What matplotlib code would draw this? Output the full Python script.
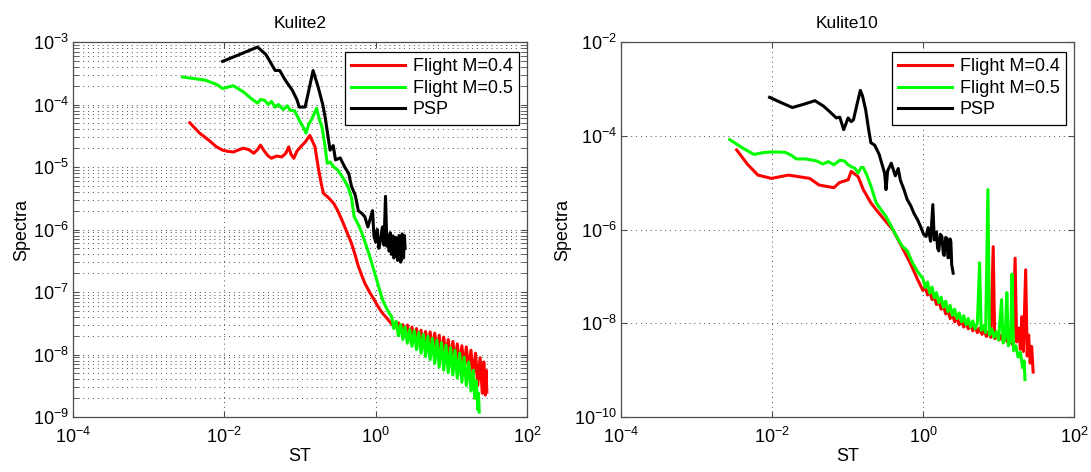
import numpy as np
import matplotlib
matplotlib.use("Agg")
import matplotlib.pyplot as plt
from matplotlib.ticker import LogLocator, NullLocator, NullFormatter

plt.rcParams['font.family'] = ['Liberation Sans', 'DejaVu Sans']
plt.rcParams['mathtext.fontset'] = 'custom'
plt.rcParams['mathtext.rm'] = 'Liberation Sans'
plt.rcParams['mathtext.it'] = 'Liberation Sans'
plt.rcParams['mathtext.bf'] = 'Liberation Sans'

labels = ["Flight M=0.4", "Flight M=0.5", "PSP"]
colors = ["#ff0000", "#00ff00", "#000000"]

# ---- Kulite2 ----
k2_psp_st = [9.5e-3, 0.0158, 0.0275, 0.0355, 0.047, 0.054, 0.064, 0.079, 0.091, 0.098,
             0.117, 0.135, 0.149, 0.174, 0.20, 0.215, 0.25, 0.275, 0.295, 0.34,
             0.39, 0.44, 0.48, 0.54, 0.59, 0.66, 0.72, 0.79, 0.91, 0.95,
             1.0, 1.05, 1.1, 1.15, 1.23, 1.29, 1.35, 1.41, 1.46, 1.51, 1.56,
             1.62, 1.66, 1.70, 1.74, 1.78, 1.82, 1.91, 1.95, 2.0, 2.04, 2.09,
             2.14, 2.19, 2.24, 2.29, 2.34, 2.4, 2.45]
k2_psp = [4.9e-4, 6.3e-4, 8.3e-4, 6.3e-4, 3.5e-4, 3.5e-4, 2.45e-4, 1.7e-4, 1.2e-4, 9.1e-5,
          9.1e-5, 2.0e-4, 3.5e-4, 1.9e-4, 1.0e-4, 6.3e-5, 1.86e-5, 2.2e-5, 1.3e-5, 1.4e-5,
          1.0e-5, 7.9e-6, 4.9e-6, 3.5e-6, 2.0e-6, 1.8e-6, 1.6e-6, 1.1e-6, 2.0e-6, 7.9e-7,
          6.3e-7, 1.0e-6, 5.0e-7, 6.3e-7, 1.1e-6, 5.6e-7, 3.4e-6, 5.4e-7, 8.0e-7, 4.5e-7,
          8.9e-7, 4.0e-7, 7.1e-7, 7.9e-7, 3.5e-7, 3.7e-7, 7.5e-7, 7.1e-7, 3.2e-7, 3.5e-7,
          8.0e-7, 7.1e-7, 3.0e-7, 3.3e-7, 8.5e-7, 7.9e-7, 3.5e-7, 8.0e-7, 5.0e-7]

k2_m05_st = [2.8e-3, 4.0e-3, 5.6e-3, 7.9e-3, 9.5e-3, 0.0112, 0.0132, 0.0158, 0.0178, 0.0224,
             0.0275, 0.030, 0.034, 0.038, 0.042, 0.047, 0.052, 0.060, 0.068, 0.074,
             0.085, 0.098, 0.112, 0.12, 0.132, 0.141, 0.166, 0.182, 0.195, 0.214,
             0.229, 0.25, 0.28, 0.316, 0.36, 0.43, 0.48, 0.52, 0.59, 0.66,
             0.81, 1.0, 1.12, 1.23, 1.38, 1.51,
             1.62, 1.74, 1.86, 2.0, 2.14, 2.29, 2.45, 2.63, 2.82, 3.02,
             3.24, 3.47, 3.72, 3.98, 4.27, 4.57, 4.9, 5.25, 5.62, 6.03,
             6.46, 6.92, 7.41, 7.94, 8.51, 9.12, 9.77, 10.5, 11.2, 12.0,
             12.9, 13.8, 14.8, 15.8, 17.0, 18.2, 19.5, 20.4, 21.4, 22.4,
             22.9, 23.4]
k2_m05 = [2.75e-4, 2.6e-4, 2.45e-4, 2.1e-4, 1.8e-4, 1.9e-4, 2.0e-4, 1.74e-4, 1.6e-4, 1.26e-4,
          1.05e-4, 1.2e-4, 1.17e-4, 1.0e-4, 1.12e-4, 9.1e-5, 1.0e-4, 8.3e-5, 9.5e-5, 8.1e-5,
          7.9e-5, 5.6e-5, 4.2e-5, 3.5e-5, 5.0e-5, 5.6e-5, 8.7e-5, 5.6e-5, 4.4e-5, 2.2e-5,
          1.15e-5, 1.2e-5, 1.0e-5, 8.9e-6, 7.1e-6, 4.9e-6, 3.2e-6, 1.6e-6, 1.2e-6, 8.7e-7,
          4.2e-7, 1.8e-7, 1.12e-7, 7.6e-8, 5.6e-8, 4.6e-8,
          4.1e-8, 2.6e-8, 3.4e-8, 2.0e-8, 3.0e-8, 1.74e-8, 2.75e-8, 1.51e-8, 2.5e-8, 1.35e-8,
          2.4e-8, 1.2e-8, 2.24e-8, 1.05e-8, 2.1e-8, 9.3e-9, 1.95e-8, 8.3e-9, 1.82e-8, 7.2e-9,
          1.7e-8, 6.3e-9, 1.55e-8, 5.6e-9, 1.41e-8, 5.1e-9, 1.29e-8, 4.7e-9, 1.17e-8, 4.2e-9,
          1.05e-8, 3.6e-9, 9.1e-9, 3.2e-9, 7.6e-9, 2.6e-9, 5.6e-9, 2.0e-9, 3.8e-9, 1.32e-9,
          2.4e-9, 1.2e-9]

k2_m04_st = [3.5e-3, 4.7e-3, 6.2e-3, 7.9e-3, 9.5e-3, 0.0112, 0.0132, 0.0158, 0.0178, 0.021,
             0.0245, 0.0275, 0.030, 0.034, 0.038, 0.042, 0.049, 0.0575, 0.065, 0.071,
             0.076, 0.083, 0.091, 0.102, 0.117, 0.135, 0.148, 0.158, 0.174, 0.19,
             0.204, 0.24, 0.28, 0.316, 0.36, 0.42, 0.48, 0.54, 0.59, 0.66,
             0.72, 0.83, 0.95, 1.10, 1.23, 1.41, 1.66,
             2.0, 2.14, 2.29, 2.45, 2.63, 2.82, 3.02, 3.24, 3.47, 3.72,
             3.98, 4.27, 4.57, 4.9, 5.25, 5.62, 6.03, 6.46, 6.92, 7.41,
             7.94, 8.51, 9.12, 9.77, 10.5, 11.2, 12.0, 12.9, 13.8, 14.8,
             15.8, 17.0, 18.2, 19.5, 20.9, 22.4, 24.0, 25.7, 26.9, 28.2,
             28.8, 29.5]
k2_m04 = [5.1e-5, 3.5e-5, 2.7e-5, 2.1e-5, 1.86e-5, 1.78e-5, 1.74e-5, 1.9e-5, 2.0e-5, 1.9e-5,
          1.66e-5, 1.9e-5, 2.24e-5, 1.78e-5, 1.5e-5, 1.38e-5, 1.5e-5, 1.45e-5, 1.66e-5, 2.1e-5,
          1.6e-5, 1.38e-5, 1.78e-5, 2.1e-5, 2.5e-5, 3.2e-5, 2.5e-5, 2.1e-5, 1.0e-5, 5.6e-6,
          3.8e-6, 3.2e-6, 2.6e-6, 2.0e-6, 1.4e-6, 8.9e-7, 6.0e-7, 3.8e-7, 2.6e-7, 1.8e-7,
          1.38e-7, 1.0e-7, 7.6e-8, 5.6e-8, 4.6e-8, 3.8e-8, 3.0e-8,
          3.2e-8, 2.24e-8, 3.0e-8, 2.0e-8, 2.95e-8, 1.82e-8, 2.75e-8, 1.66e-8, 2.6e-8, 1.51e-8,
          2.45e-8, 1.38e-8, 2.34e-8, 1.29e-8, 2.3e-8, 1.2e-8, 2.2e-8, 1.1e-8, 2.04e-8, 9.8e-9,
          1.9e-8, 8.9e-9, 1.74e-8, 7.9e-9, 1.62e-8, 7.2e-9, 1.48e-8, 6.5e-9, 1.38e-8, 6.0e-9,
          1.32e-8, 5.5e-9, 1.17e-8, 4.5e-9, 1.05e-8, 3.2e-9, 8.9e-9, 2.4e-9, 7.6e-9, 2.24e-9,
          5.6e-9, 2.5e-9]

# ---- Kulite10 ----
k10_psp_st = [9.3e-3, 0.0132, 0.0186, 0.0263, 0.037, 0.048, 0.059, 0.071, 0.079, 0.089,
              0.102, 0.112, 0.12, 0.135, 0.148, 0.158, 0.174, 0.19, 0.204, 0.229,
              0.263, 0.28, 0.31, 0.324, 0.34, 0.38, 0.43, 0.47, 0.50, 0.56,
              0.62, 0.69, 0.76, 0.85, 0.93, 1.02, 1.10, 1.17, 1.26, 1.35,
              1.41, 1.51, 1.56, 1.62, 1.70, 1.78, 1.86, 1.91, 2.0, 2.09,
              2.14, 2.19, 2.29, 2.34, 2.4, 2.51]
k10_psp = [6.6e-4, 5.1e-4, 4.0e-4, 4.7e-4, 5.6e-4, 4.3e-4, 3.2e-4, 2.4e-4, 2.5e-4, 1.35e-4,
           2.4e-4, 2.0e-4, 2.2e-4, 5.0e-4, 9.3e-4, 7.1e-4, 3.6e-4, 1.4e-4, 7.1e-5, 6.3e-5,
           4.0e-5, 2.8e-5, 1.6e-5, 7.1e-6, 1.78e-5, 2.6e-5, 1.4e-5, 2.0e-5, 1.15e-5, 7.1e-6,
           4.3e-6, 3.2e-6, 2.2e-6, 1.6e-6, 1.15e-6, 7.9e-7, 7.1e-7, 1.1e-6, 5.6e-7, 3.4e-6,
           6.0e-7, 8.9e-7, 4.0e-7, 3.5e-7, 7.9e-7, 7.1e-7, 3.0e-7, 2.8e-7, 6.8e-7, 6.3e-7,
           2.5e-7, 2.5e-7, 6.3e-7, 5.5e-7, 1.78e-7, 1.17e-7]

k10_m05_st = [2.75e-3, 4.0e-3, 5.75e-3, 7.9e-3, 9.8e-3, 0.0126, 0.0151, 0.0182, 0.021, 0.028,
              0.039, 0.047, 0.056, 0.066, 0.079, 0.091, 0.102, 0.112, 0.126, 0.138,
              0.151, 0.162, 0.182, 0.204, 0.24, 0.28, 0.324, 0.38, 0.447, 0.525,
              0.62, 0.72, 0.85,
              1.0, 1.07, 1.15, 1.23, 1.32, 1.41, 1.51, 1.62, 1.74, 1.86,
              2.0, 2.14, 2.29, 2.45, 2.63, 2.82, 3.02, 3.24, 3.47, 3.72,
              3.98, 4.27, 4.57, 4.9, 5.25, 5.62, 5.89, 6.31, 6.76, 7.24,
              7.59, 8.13, 8.71, 9.33, 10.0, 11.0, 11.5, 12.3, 12.9, 13.5,
              14.5, 15.1, 15.8, 17.0, 18.2, 19.5, 20.9, 21.9, 22.4]
k10_m05 = [8.3e-5, 5.6e-5, 4.0e-5, 4.4e-5, 4.5e-5, 4.5e-5, 4.4e-5, 3.8e-5, 3.2e-5, 3.2e-5,
           2.9e-5, 2.5e-5, 2.8e-5, 2.4e-5, 3.0e-5, 2.9e-5, 2.4e-5, 2.2e-5, 2.0e-5, 1.6e-5,
           2.1e-5, 2.1e-5, 1.4e-5, 8.5e-6, 3.7e-6, 2.6e-6, 1.9e-6, 1.17e-6, 7.1e-7, 4.5e-7,
           3.5e-7, 2.0e-7, 1.26e-7,
           8.9e-8, 5.8e-8, 7.6e-8, 4.4e-8, 5.9e-8, 3.5e-8, 4.5e-8, 2.75e-8, 3.6e-8, 2.2e-8,
           2.95e-8, 1.78e-8, 2.4e-8, 1.48e-8, 2.0e-8, 1.26e-8, 1.66e-8, 1.07e-8, 1.45e-8, 9.3e-9,
           1.26e-8, 8.3e-9, 1.12e-8, 7.6e-9, 1.0e-8, 1.95e-7, 7.1e-9, 8.9e-9, 6.3e-9, 7.1e-6,
           5.6e-9, 7.6e-9, 5.0e-9, 6.6e-9, 4.4e-9, 3.2e-8, 3.8e-9, 5.0e-9, 4.5e-8, 3.3e-9,
           4.2e-9, 1.12e-7, 2.6e-9, 3.3e-9, 1.9e-9, 2.4e-9, 1.12e-9, 1.58e-9, 6.3e-10]

k10_m04_st = [3.4e-3, 4.7e-3, 6.5e-3, 9.8e-3, 0.0166, 0.0316, 0.042, 0.066, 0.078, 0.102,
              0.112, 0.138, 0.162, 0.204, 0.263, 0.40, 0.55, 0.68, 0.85,
              1.0, 1.07, 1.15, 1.23, 1.32, 1.41, 1.51, 1.62, 1.74, 1.86,
              2.0, 2.14, 2.29, 2.45, 2.63, 2.82, 3.02, 3.24, 3.47, 3.72,
              3.98, 4.27, 4.57, 4.9, 5.25, 5.62, 6.03, 6.46, 6.92, 7.41,
              7.94, 8.51, 8.91, 9.55, 10.2, 11.0, 11.7, 12.6, 13.5, 14.5,
              15.5, 16.6, 17.4, 18.6, 19.5, 20.4, 21.4, 22.9, 24.0, 25.1,
              26.3, 27.5, 28.8]
k10_m04 = [5.0e-5, 2.5e-5, 1.45e-5, 1.23e-5, 1.45e-5, 1.23e-5, 8.9e-6, 7.8e-6, 1.0e-5, 1.15e-5,
           1.74e-5, 1.35e-5, 7.1e-6, 3.7e-6, 2.2e-6, 9.8e-7, 3.7e-7, 1.9e-7, 8.5e-8,
           5.0e-8, 6.0e-8, 4.0e-8, 4.8e-8, 3.2e-8, 3.8e-8, 2.5e-8, 3.0e-8, 2.0e-8, 2.4e-8,
           1.58e-8, 1.9e-8, 1.26e-8, 1.58e-8, 1.07e-8, 1.35e-8, 9.3e-9, 1.17e-8, 8.3e-9, 1.05e-8,
           7.6e-9, 9.5e-9, 6.9e-9, 8.7e-9, 6.3e-9, 7.9e-9, 5.8e-9, 7.2e-9, 5.2e-9, 6.6e-9,
           5.0e-9, 4.3e-7, 4.7e-9, 6.0e-9, 4.4e-9, 5.6e-9, 4.0e-9, 5.2e-9, 3.7e-9, 5.0e-9,
           3.5e-9, 2.45e-7, 4.0e-9, 7.9e-9, 2.8e-9, 1.38e-8, 2.5e-9, 1.38e-7, 2.0e-9, 5.6e-9,
           1.41e-9, 3.2e-9, 9.1e-10]


def style_axes(ax, title, ymin, ymax, yticks, minor_grid):
    ax.set_xscale('log')
    ax.set_yscale('log')
    ax.set_xlim(1e-4, 1e2)
    ax.set_ylim(ymin, ymax)
    ax.set_xticks([1e-4, 1e-2, 1e0, 1e2])
    ax.set_yticks(yticks)
    ax.xaxis.set_minor_locator(NullLocator())
    dots = (0, (1, 4))
    if minor_grid:
        ax.yaxis.set_minor_locator(LogLocator(base=10, subs=(2, 3, 4, 5, 6, 7, 8, 9), numticks=100))
        ax.yaxis.set_minor_formatter(NullFormatter())
        ax.grid(True, which='minor', axis='y', linestyle=dots, color='0.3', linewidth=0.7)
    else:
        ax.yaxis.set_minor_locator(NullLocator())
    ax.grid(True, which='major', linestyle=dots, color='0.3', linewidth=0.7)
    ax.tick_params(which='both', direction='in', top=True, right=True, labelsize=13,
                   length=4, color='0.3')
    ax.tick_params(axis='x', pad=7)
    ax.tick_params(axis='y', pad=3)
    for s in ax.spines.values():
        s.set_color('0.3')
        s.set_linewidth(0.9)
    ax.set_title(title, fontsize=12.5, pad=10)
    ax.set_xlabel('ST', fontsize=13, labelpad=1)
    ax.set_ylabel('Spectra', fontsize=13, labelpad=2)
    leg = ax.legend(loc='upper right', bbox_to_anchor=(0.982, 0.973), borderaxespad=0,
                    fontsize=13, handlelength=3.0, labelspacing=0.25, handletextpad=0.4,
                    fancybox=False, framealpha=1, edgecolor='black', borderpad=0.35)
    leg.get_frame().set_linewidth(0.9)


fig = plt.figure(figsize=(10.91, 4.72), dpi=100)
ax1 = fig.add_axes([0.0669, 0.1165, 0.4161, 0.7945])
ax2 = fig.add_axes([0.5692, 0.1165, 0.4152, 0.7945])

ax1.plot(k2_m04_st, k2_m04, color=colors[0], linewidth=2.2, label=labels[0])
ax1.plot(k2_m05_st, k2_m05, color=colors[1], linewidth=2.2, label=labels[1])
ax1.plot(k2_psp_st, k2_psp, color=colors[2], linewidth=2.2, label=labels[2])
style_axes(ax1, 'Kulite2', 1e-9, 1e-3, [1e-9, 1e-8, 1e-7, 1e-6, 1e-5, 1e-4, 1e-3], True)

ax2.plot(k10_m04_st, k10_m04, color=colors[0], linewidth=2.2, label=labels[0])
ax2.plot(k10_m05_st, k10_m05, color=colors[1], linewidth=2.2, label=labels[1])
ax2.plot(k10_psp_st, k10_psp, color=colors[2], linewidth=2.2, label=labels[2])
style_axes(ax2, 'Kulite10', 1e-10, 1e-2, [1e-10, 1e-8, 1e-6, 1e-4, 1e-2], False)

fig.savefig('out.png', dpi=100)
